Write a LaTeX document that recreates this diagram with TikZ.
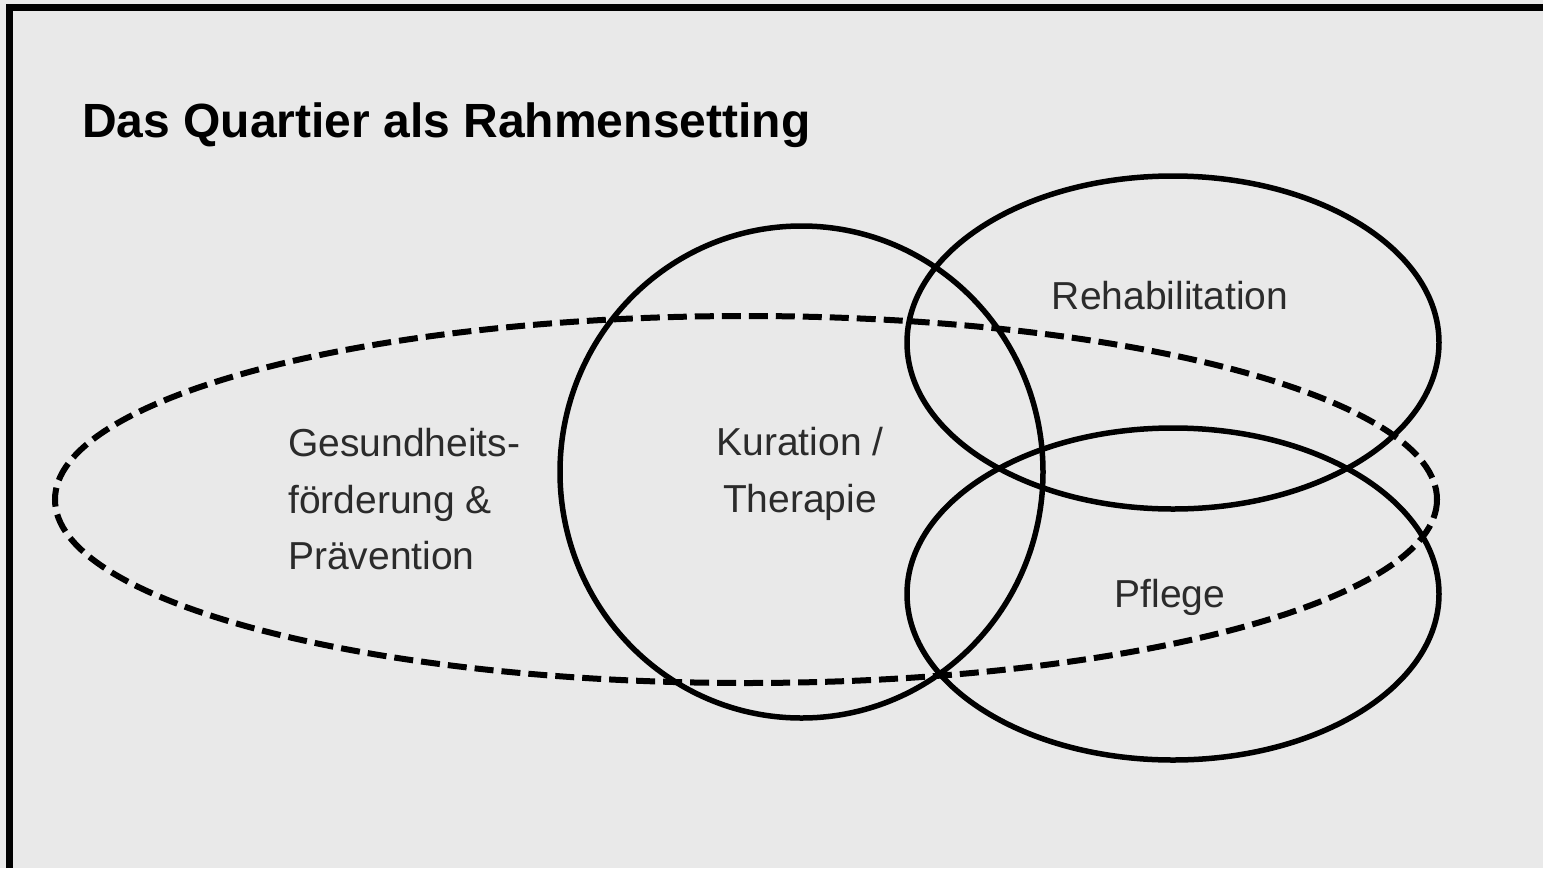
\documentclass[tikz,border=0pt]{standalone}
\usepackage{fontspec}
\setmainfont{Liberation Sans}
\definecolor{bg}{HTML}{E9E9E9}
\definecolor{labelgray}{HTML}{2B2B2B}
\begin{document}
\begin{tikzpicture}[x=1pt,y=-1pt,
  ring/.style={draw=black, line width=5.5pt},
  dashring/.style={draw=black, line width=6pt, dash pattern=on 19pt off 8pt},
  lbl/.style={inner sep=0pt, text=labelgray, font=\fontsize{39}{56.5}\selectfont},
  ttl/.style={inner sep=0pt, anchor=base west, font=\fontsize{48}{56}\selectfont\bfseries}]
\fill[bg] (0,0) rectangle (1543,868);
\useasboundingbox (0,0) rectangle (1543,868);
% frame (left and top edges visible)
\draw[line width=7.5pt] (9.5,868) -- (9.5,7.5) -- (1543,7.5);
% title
\node[ttl] (title) at (82,137) {Das Quartier als Rahmensetting};
% shapes
\draw[dashring] (746,499.5) ellipse [x radius=691, y radius=183.5];
\draw[ring] (801.5,472) ellipse [x radius=241.5, y radius=246];
\draw[ring] (1173,342.5) ellipse [x radius=266, y radius=166.5];
\draw[ring] (1173,594) ellipse [x radius=266, y radius=166];
% labels
\node[lbl, align=left, anchor=west] (gesund) at (288,499.5) {Gesundheits-\\förderung \&\\Prävention};
\node[lbl, align=center] (kuration) at (800,474) {Kuration /\\Therapie};
\node[lbl] (rehab) at (1170,296) {Rehabilitation};
\node[lbl] (pflege) at (1170,597) {Pflege};
\end{tikzpicture}
\end{document}
